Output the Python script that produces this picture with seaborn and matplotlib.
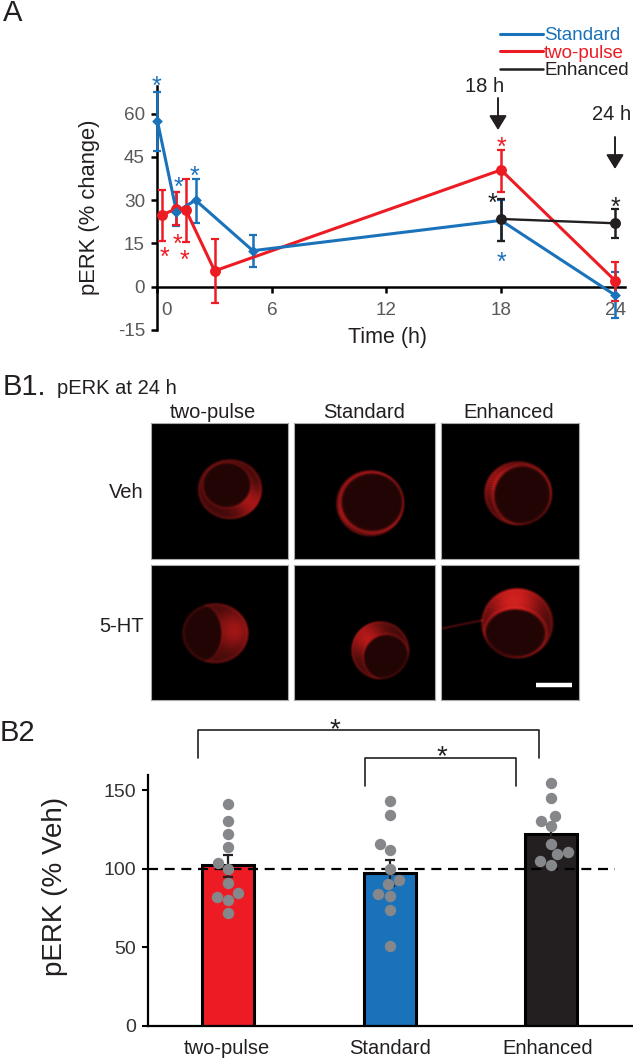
import numpy as np
import pandas as pd
import matplotlib
matplotlib.use('Agg')
import matplotlib.pyplot as plt
from matplotlib.colors import LinearSegmentedColormap
from matplotlib.lines import Line2D
from matplotlib.transforms import ScaledTranslation
import seaborn as sns

W, H = 633, 1061
BLUE = '#1a72bb'
RED = '#ed1c24'
BLACK = '#231f20'
DOT = '#85878a'

# panel A
std_t = [0, 1, 2, 5, 18, 24]
std_y = [57.5, 26, 30, 12.5, 23, -3]
std_lo = [47, 21, 22, 7, 16, -11]
std_hi = [67.5, 33, 37.5, 18, 30, 5]

two_t = [0.25, 1, 1.5, 3, 18, 24]
two_y = [25, 27, 26.5, 5.5, 40.5, 2]
two_lo = [16, 21.5, 15.5, -5.5, 33, -5]
two_hi = [33.5, 33, 37.5, 16.5, 47.5, 8.5]

enh_t = [18, 24]
enh_y = [23.5, 22]
enh_lo = [16, 17]
enh_hi = [30.5, 27]

# panel B2
groups = ['two-pulse', 'Standard', 'Enhanced']
bar_means = [102, 97.5, 122]
bar_lo = [94.5, 89, 117]
bar_hi = [108.5, 105.5, 127.5]
two_pts = [141, 130, 122, 114, 103.4, 99.6, 91, 84.3, 82, 80, 72]
std_pts = [143, 134, 115.7, 112, 99.6, 92.8, 90, 83.7, 82.8, 73.5, 50.5]
enh_pts = [154.3, 144.8, 133.8, 130.6, 127, 115.5, 110.6, 109, 105, 102.5]

sns.set_theme(style='white')
plt.rcParams['font.family'] = ['Liberation Sans', 'DejaVu Sans']
plt.rcParams['axes.unicode_minus'] = False

fig = plt.figure(figsize=(W / 100, H / 100), dpi=100)


def axes_px(x0, y0, x1, y1):
    # box given in picture pixels, y going down
    return fig.add_axes([x0 / W, 1 - y1 / H, (x1 - x0) / W, (y1 - y0) / H])


# ---- panel A ----
ax = axes_px(157.4, 86, 625, 330)
ax.patch.set_alpha(0)
ax.set_xlim(0, 24.5)
ax.set_ylim(-15, 69.6)

series = [(std_t, std_y, std_lo, std_hi, BLUE, 'D', 30, 2.2),
          (two_t, two_y, two_lo, two_hi, RED, 'o', 62, 2.2),
          (enh_t, enh_y, enh_lo, enh_hi, BLACK, 'o', 62, 1.7)]
for t, y, lo, hi, c, m, s, lw in series:
    yerr = [np.array(y) - np.array(lo), np.array(hi) - np.array(y)]
    ax.errorbar(t, y, yerr=yerr, fmt='none', ecolor=c, elinewidth=1.8,
                capsize=2.6, capthick=1.6, clip_on=False, zorder=3)
for t, y, lo, hi, c, m, s, lw in [series[1], series[0], series[2]]:
    sns.lineplot(x=t, y=y, color=c, lw=lw, ax=ax, clip_on=False, zorder=4, errorbar=None)
    sns.scatterplot(x=t, y=y, color=c, marker=m, s=s, linewidth=0, ax=ax,
                    clip_on=False, zorder=5, legend=False)

sns.despine(ax=ax)
ax.spines['left'].set_position(('data', 0))
ax.spines['bottom'].set_position(('data', 0))
for sp in ['left', 'bottom']:
    ax.spines[sp].set_linewidth(1.8)
    ax.spines[sp].set_color('black')
    ax.spines[sp].set_zorder(2)
ax.set_xticks([0, 6, 12, 18, 24])
ax.set_yticks([-15, 0, 15, 30, 45, 60])
ax.tick_params(axis='x', bottom=True, length=4, width=1.8, pad=7, labelsize=13.6, labelcolor='#58595b', color='black')
ax.tick_params(axis='y', left=True, length=4, width=1.8, pad=5, labelsize=13.6, labelcolor='#58595b', color='black')
zero_label = ax.get_xticklabels()[0]
zero_label.set_transform(zero_label.get_transform() + ScaledTranslation(9 / 100, 0, fig.dpi_scale_trans))

handles = [Line2D([], [], color=BLUE, lw=2.2), Line2D([], [], color=RED, lw=2.2), Line2D([], [], color=BLACK, lw=1.8)]
fig.legend(handles, ['Standard', 'two-pulse', 'Enhanced'], labelcolor=[BLUE, RED, BLACK],
           loc='upper left', bbox_to_anchor=(500 / W, 1 - 27 / H), frameon=False, fontsize=13.5,
           handlelength=2.3, handletextpad=0.05, labelspacing=0.02, borderpad=0, borderaxespad=0)

# ---- overlay in picture pixels ----
ov = fig.add_axes([0, 0, 1, 1], zorder=10)
ov.set_xlim(0, W)
ov.set_ylim(H, 0)
ov.axis('off')


def label(x, y, s, size, ha='center', color='black', rotation=0):
    ov.text(x, y, s, fontsize=size, ha=ha, va='center', color=color, rotation=rotation)


def star(x, y, color, size=18):
    # y is the middle of the asterisk ink, which sits high in the font
    ov.text(x, y + 0.62 * size * 100 / 72, '*', fontsize=size, ha='center', va='baseline', color=color)


label(3, 13, 'A', 21, ha='left', color='#231f20')
label(3, 387, 'B1.', 21, ha='left', color='#231f20')
label(57, 389, 'pERK at 24 h', 14.5, ha='left', color='#231f20')
label(0, 733, 'B2', 21, ha='left', color='#231f20')

label(90, 207, 'pERK (% change)', 15.8, rotation=90, color='#231f20')
label(387, 338, 'Time (h)', 15.5, color='#231f20')
label(485, 86, '18 h', 14.5, color='#231f20')
label(612, 115, '24 h', 14.5, color='#231f20')
for ax_x, y0, y1 in [(498, 98, 130), (615, 137, 169)]:
    ov.annotate('', xy=(ax_x, y1), xytext=(ax_x, y0),
                arrowprops=dict(arrowstyle='-|>,head_length=0.62,head_width=0.38', color=BLACK, lw=1.4,
                                shrinkA=0, shrinkB=0, mutation_scale=14))

for x, y in [(156, 78), (178, 179), (194, 168), (501, 254)]:
    star(x, y, BLUE)
for x, y in [(164, 249), (177, 236), (184, 252), (501, 139)]:
    star(x, y, RED)
for x, y in [(492, 195), (615, 199)]:
    star(x, y, BLACK)

# ---- panel B1, stand-ins for the micrographs ----
cell_cmap = LinearSegmentedColormap.from_list('cell', ['#000000', '#6e1010', '#d81c1c', '#ff3a30'])
col_x = [(150.5, 288), (294, 435), (441, 579)]
row_y = [(423, 559), (565, 700)]
# outer centre and radii, nucleus centre and radii, ring strength, bright blobs (x, y, r, gain)
cells = {
    (0, 0): ((229, 489, 32, 30), (226, 485, 24, 22.5), 0.14, [(250, 502, 11, 0.38)]),
    (0, 1): ((370, 503, 34, 33), (372, 502, 32, 30), 0.34, [(340, 515, 9, 0.12)]),
    (0, 2): ((518, 493, 34, 32), (522, 495, 29, 30), 0.24, [(500, 482, 12, 0.36)]),
    (1, 0): ((214.5, 633, 33, 30), (200, 633, 21, 29), 0.10, [(233, 630, 13, 0.36)]),
    (1, 1): ((380, 650, 29, 29), (386, 657, 23, 23), 0.16, [(366, 637, 12, 0.45)]),
    (1, 2): ((517, 623, 36, 35), (515, 633, 31, 25), 0.26, [(514, 600, 18, 0.62)]),
}
for (r, c), (outer, nuc, ring, blobs) in cells.items():
    x0, x1 = col_x[c]
    y0, y1 = row_y[r]
    pax = axes_px(x0, y0, x1, y1)
    xx, yy = np.meshgrid(np.arange(x0, x1, 0.5), np.arange(y0, y1, 0.5))
    d_out = np.hypot((xx - outer[0]) / outer[2], (yy - outer[1]) / outer[3])
    d_nuc = np.hypot((xx - nuc[0]) / nuc[2], (yy - nuc[1]) / nuc[3])
    inside = np.clip((1.03 - d_out) / 0.08, 0, 1)
    img = inside * (0.13 + 0.13 * np.clip((d_nuc - 0.95) / 0.1, 0, 1))
    img += ring * np.exp(-((d_nuc - 1) / 0.06) ** 2) * inside
    img += 0.12 * np.exp(-((d_out - 0.97) / 0.05) ** 2)
    for bx, by, br, g in blobs:
        img += g * inside * np.clip((d_nuc - 0.9) / 0.15, 0, 1) * np.exp(-((xx - bx) ** 2 + (yy - by) ** 2) / (2 * br ** 2))
    # grainy look of the confocal picture
    grain = np.sin(xx * 5.3 + yy * 2.1) * np.sin(xx * 2.7 - yy * 6.1) + 0.6 * np.sin(xx * xx * 0.013 + yy * 3.7)
    img = img * (0.8 + 0.32 * grain)
    if (r, c) == (1, 2):
        # neurite leaving the soma
        t = np.clip(((xx - 443) * 39 + (yy - 628) * -8) / (39 ** 2 + 8 ** 2), 0, 1)
        dist = np.hypot(xx - (443 + 39 * t), yy - (628 - 8 * t))
        img += 0.22 * np.exp(-(dist / 1.3) ** 2)
    pax.imshow(img, cmap=cell_cmap, vmin=0, vmax=1, extent=(x0, x1, y1, y0), aspect='auto', interpolation='bilinear')
    pax.set_xticks([])
    pax.set_yticks([])
    for sp in pax.spines.values():
        sp.set_color('#a7a9ac')
        sp.set_linewidth(0.8)
    pax.grid(False)

for x, s in zip([213, 364, 509], ['two-pulse', 'Standard', 'Enhanced']):
    label(x, 413, s, 14.5, color='#231f20')
label(144, 493, 'Veh', 14.5, ha='right', color='#231f20')
label(144, 626, '5-HT', 14.5, ha='right', color='#231f20')
ov.plot([536, 572], [685, 685], color='white', lw=3.2, solid_capstyle='butt')

# ---- panel B2 ----
bx = axes_px(147.6, 775, 632, 1025.7)
bx.patch.set_alpha(0)
df_bar = pd.DataFrame({'group': groups, 'mean': bar_means})
sns.barplot(data=df_bar, x='group', y='mean', hue='group', order=groups, hue_order=groups,
            palette=[RED, BLUE, BLACK], saturation=1, width=0.32, edgecolor='black', linewidth=2.2,
            legend=False, ax=bx, zorder=2)
bx.axhline(100, xmin=0, xmax=0.965, color='black', lw=1.6, ls=(0, (4.5, 3)), zorder=2.5)
bx.errorbar(range(3), bar_means, yerr=[np.array(bar_means) - np.array(bar_lo), np.array(bar_hi) - np.array(bar_means)],
            fmt='none', ecolor=BLACK, elinewidth=1.6, capsize=3.6, capthick=1.6, zorder=3)
df_pts = pd.DataFrame({'group': ['two-pulse'] * len(two_pts) + ['Standard'] * len(std_pts) + ['Enhanced'] * len(enh_pts),
                       'value': two_pts + std_pts + enh_pts})
sns.swarmplot(data=df_pts, x='group', y='value', order=groups, color=DOT, size=8.2, linewidth=0, ax=bx, zorder=4)
bx.set_xlim(-0.5, 2.5)
bx.set_ylim(0, 159.6)
bx.set_yticks([0, 50, 100, 150])
bx.set_xlabel('')
bx.set_ylabel('')
bx.set_xticks([])
sns.despine(ax=bx)
for sp in ['left', 'bottom']:
    bx.spines[sp].set_linewidth(1.6)
    bx.spines[sp].set_color('black')
bx.tick_params(axis='y', left=True, length=4.5, width=1.5, pad=4, labelsize=14, labelcolor='#333333', color='black')

for x, s in zip([227, 390, 548], groups):
    label(x, 1048, s, 14.5, color='#231f20')
label(55, 886, 'pERK (% Veh)', 20, rotation=90, color='#231f20')

ov.plot([197.5, 197.5, 539, 539], [758, 730, 730, 758], color=BLACK, lw=1.2)
ov.plot([365, 365, 516, 516], [786, 758, 758, 786], color=BLACK, lw=1.2)
star(335, 720, BLACK, 20)
star(442, 747, BLACK, 20)

fig.savefig('out.png', dpi=100)
